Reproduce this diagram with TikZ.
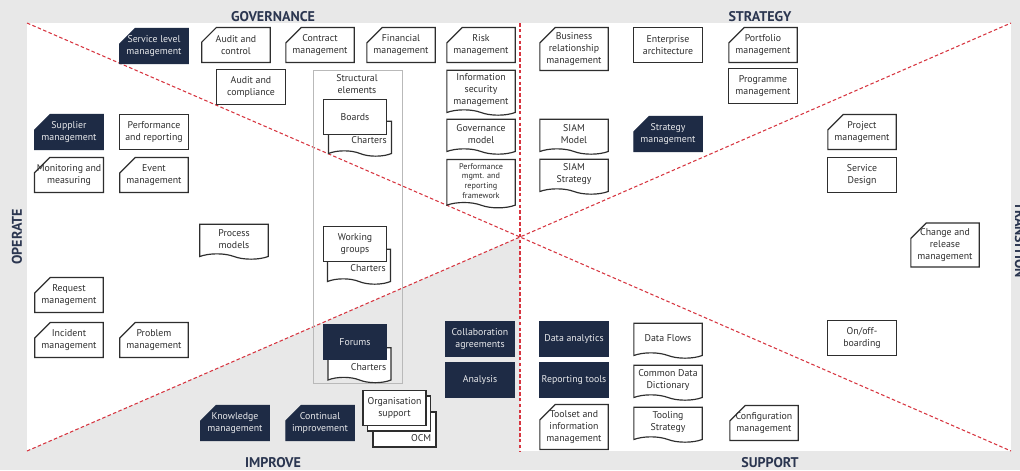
\documentclass[tikz,border=0pt]{standalone}
\usepackage{fontspec}
\setmainfont{PT Sans}
\usepackage{tikz}
\usetikzlibrary{shapes.misc,shapes.symbols,positioning}
\definecolor{navy}{HTML}{1E2B45}
\definecolor{ink}{HTML}{2E2E2E}
\definecolor{band}{HTML}{E8E8E8}
\definecolor{splitred}{HTML}{D7343F}
\definecolor{heading}{HTML}{2B3650}
\tikzset{
  base/.style   ={draw=ink,line width=1pt,text=ink,align=center,inner sep=1pt,
                  minimum width=2.05cm,minimum height=1.05cm,font=\fontsize{8.4}{10.2}\selectfont},
  plain/.style  ={base,rectangle,fill=white},
  cut/.style    ={base,chamfered rectangle,chamfered rectangle corners=north west,
                  chamfered rectangle xsep=0.24cm,chamfered rectangle ysep=0.22cm,
                  inner xsep=-0.17cm,inner ysep=-0.07cm,fill=white},
  doc/.style    ={base,tape,tape bend top=none,tape bend bottom=out and in,
                  tape bend height=0.16cm,fill=white},
  dark/.style   ={fill=navy,draw=navy,text=white!90!navy},
  tall/.style   ={minimum height=1.35cm},
  narrow/.style ={minimum width=1.89cm},
  tiny/.style   ={font=\fontsize{7}{8.4}\selectfont},
  sheet/.style  ={narrow,text width=1.6cm,align=right,text height=0.5cm,text depth=0.05cm},
  split/.style  ={splitred,densely dashed,line width=0.9pt},
  axis/.style   ={text=heading,font=\bfseries\fontsize{12}{14}\selectfont},
  frame/.style  ={draw=gray!55,line width=0.5pt},
}

\begin{document}
\begin{tikzpicture}[x=0.03cm,y=-0.03cm]
  \useasboundingbox (0,0) rectangle (1020,470);
  \fill[band] (0,0) rectangle (1020,470);
  \coordinate (tl) at (27,23);   \coordinate (tr) at (1011,23);
  \coordinate (bl) at (27,451);  \coordinate (br) at (1011,451);
  \coordinate (ctr) at (520,237);
  \coordinate (top) at (520,23); \coordinate (bot) at (520,451);
  \fill[white] (tl) rectangle (br);
  \fill[band] (bl) -- (ctr) -- (bot) -- cycle;
  \draw[split] (tl) -- (ctr) -- (br);
  \draw[split] (bl) -- (ctr) -- (tr);
  \draw[split] (top) -- (bot);

  % quadrant titles
  \node[axis] (gov) at (273,17){GOVERNANCE};   \node[axis] (strat) at (760,17){STRATEGY};
  \node[axis] (impr) at (273,463){IMPROVE};    \node[axis] (supp) at (770,463){SUPPORT};
  \node[axis,rotate=90] (oper) at (17,237){OPERATE};
  \node[axis,rotate=-90] (trans) at (1020,240){TRANSITION};

  % governance
  \node[cut,dark] (slm) at (154,46){Service level\\management};
  \node[cut] (audctl) at (236,45){Audit and\\control};
  \node[cut] (contr) at (320,45){Contract\\management};
  \node[cut] (fin) at (401,45){Financial\\management};
  \node[cut] (risk) at (481,45){Risk\\management};
  \node[plain] (audcmp) at (251,87){Audit and\\compliance};
  \node[doc,tall] (infosec) at (481,90){Information\\security\\management};
  \node[doc] (govmod) at (481,134){Governance\\model};
  \node[doc,tiny,minimum height=1.45cm] (perffw) at (481,181){Performance\\mgmt. and\\reporting\\framework};

  % structural elements
  \draw[frame] (313,70) rectangle (402,383);
  \node[text=ink,align=center,font=\fontsize{8.4}{10.2}\selectfont] (struct) at (357,84){Structural\\elements};
  \node[doc,sheet] (chart1) at (360,136){Charters};
  \node[plain,narrow] (boards) at (355,117){Boards};
  \node[doc,sheet] (chart2) at (359,264){Charters};
  \node[plain,narrow] (wgroups) at (355,244){Working\\groups};
  \node[doc,sheet] (chart3) at (359.5,362.5){Charters};
  \node[plain,narrow,dark] (forums) at (355,342){Forums};

  % operate
  \node[cut,dark] (suppl) at (69,132){Supplier\\management};  \node[plain] (perfrep) at (154,132){Performance\\and reporting};
  \node[cut] (monit) at (69,175){Monitoring and\\measuring};   \node[cut] (event) at (154,175){Event\\management};
  \node[doc] (procmod) at (234,239){Process\\models};
  \node[cut] (request) at (69,295){Request\\management};
  \node[cut] (incid) at (69,340){Incident\\management};      \node[cut] (probl) at (154,340){Problem\\management};

  % improve
  \node[cut,dark] (knowl) at (235,423){Knowledge\\management};
  \node[cut,dark] (contimp) at (320,423){Continual\\improvement};
  \node[plain,sheet,text height=0.78cm] (ocm) at (404.5,429.5){OCM};
  \node[plain,narrow] (orgmid) at (399,413.5){};
  \node[plain,narrow] (orgsup) at (394.5,408){Organisation\\support};
  \node[plain,dark] (collab) at (480,339){Collaboration\\agreements};
  \node[plain,dark] (analys) at (480,380){Analysis};

  % strategy
  \node[cut,minimum height=1.26cm] (brm) at (574,49){Business\\relationship\\management};
  \node[plain] (entarch) at (668,45){Enterprise\\architecture};
  \node[cut] (portf) at (763,45){Portfolio\\management};
  \node[plain] (progr) at (763,86){Programme\\management};
  \node[doc] (siammod) at (574,134){SIAM\\Model};      \node[cut,dark] (stratmg) at (668,134){Strategy\\management};
  \node[doc] (siamstr) at (574,174){SIAM\\Strategy};
  \node[cut] (project) at (862,132){Project\\management};
  \node[plain] (servdes) at (862,175){Service\\Design};

  % transition
  \node[cut,minimum height=1.32cm] (chrel) at (945,245){Change and\\release\\management};
  \node[plain] (onoff) at (862,338){On/off-\\boarding};

  % support
  \node[plain,dark] (analyt) at (574,339){Data analytics};  \node[doc] (flows) at (668,338){Data Flows};
  \node[plain,dark] (reptools) at (574,380){Reporting tools}; \node[doc] (cdd) at (668,380){Common Data\\Dictionary};
  \node[cut,tall] (toolset) at (574,427){Toolset and\\information\\management};
  \node[doc] (toolstr) at (668,422){Tooling\\Strategy};
  \node[cut] (config) at (764,423){Configuration\\management};
\end{tikzpicture}
\end{document}
